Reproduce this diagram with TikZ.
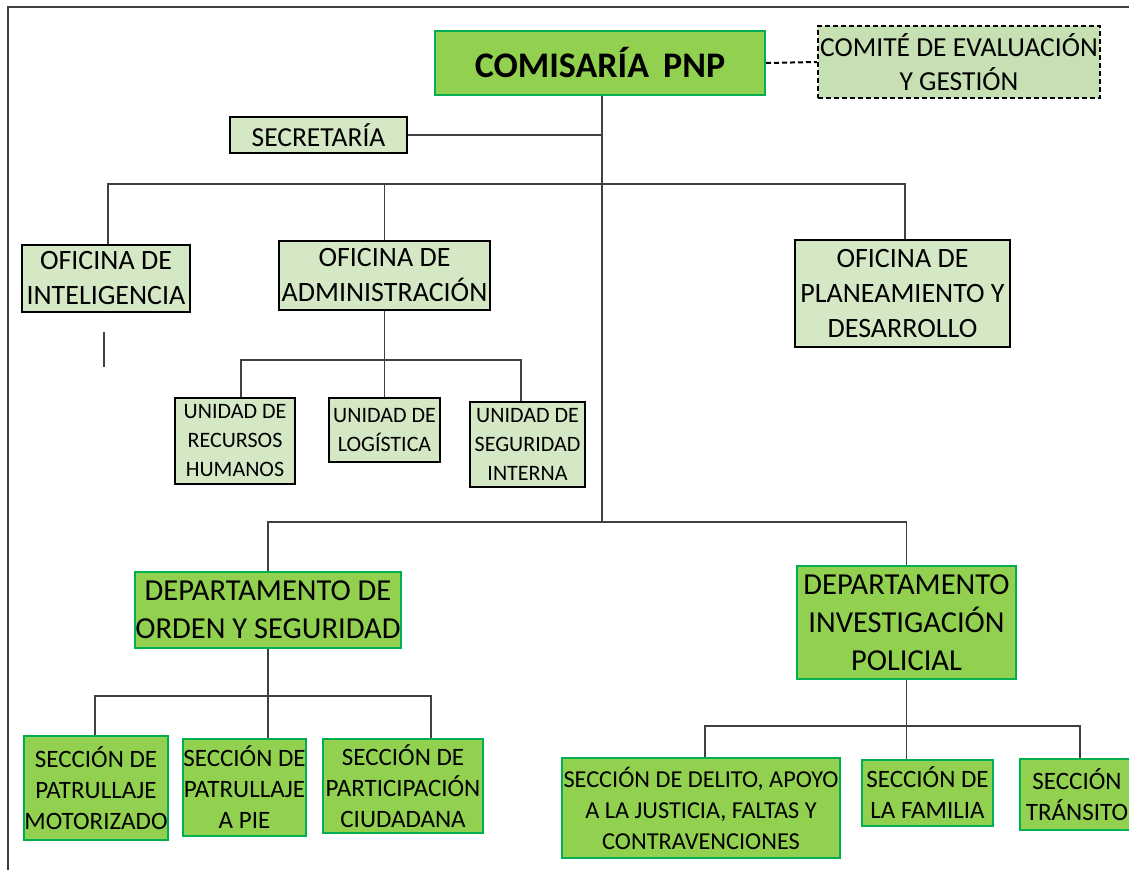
\documentclass[tikz,border=0pt]{standalone}
\usepackage{fontspec}
\setmainfont{Carlito}
\definecolor{litegreen}{HTML}{D5E8C6}
\definecolor{comitegreen}{HTML}{C6E0B4}
\definecolor{midgreen}{HTML}{92D050}
\definecolor{bordgreen}{HTML}{00B050}
\definecolor{linegray}{HTML}{404040}
\tikzset{
  lite/.style={draw=black, line width=2.2pt, fill=litegreen, align=center, inner sep=0pt},
  dark/.style={draw=bordgreen, line width=2pt, fill=midgreen, align=center, inner sep=0pt},
  conn/.style={draw=linegray, line width=1.3pt},
  dashconn/.style={draw=black, line width=2pt, dash pattern=on 5pt off 3pt},
  fOf/.style={font=\fontsize{28}{35}\selectfont},
  fUn/.style={font=\fontsize{22}{29}\selectfont},
  fDe/.style={font=\fontsize{30.5}{38}\selectfont},
  fSe/.style={font=\fontsize{25}{31}\selectfont},
}
\begin{document}
\begin{tikzpicture}[x=1pt,y=-1pt]
\useasboundingbox (0,0) rectangle (1129,870);
% frame
\coordinate (fa) at (8,870);
\coordinate (fb) at (8,7);
\coordinate (fc) at (1135,7);
\draw[linegray, line width=1.8pt] (fa) -- (fb) -- (fc);

% nodes
\node[dark, minimum width=330pt, minimum height=64pt, font=\fontsize{36}{40}\selectfont\bfseries] (com) at (600,63) {COMISARÍA\, PNP};
\node[draw=black, line width=2pt, dash pattern=on 5pt off 3pt, fill=comitegreen, align=center, inner sep=0pt,
      minimum width=282pt, minimum height=72pt, font=\fontsize{27.5}{34}\selectfont] (comite) at (959,62) {COMITÉ DE EVALUACIÓN\\Y GESTIÓN};
\node[lite, minimum width=177pt, minimum height=36pt, font=\fontsize{27.5}{30}\selectfont] (sec) at (318.5,135) {SECRETARÍA};

\node[lite, fOf, minimum width=168pt, minimum height=67pt] (intel) at (106,278.5) {OFICINA DE\\INTELIGENCIA};
\node[lite, fOf, minimum width=211pt, minimum height=69pt] (adm) at (384.5,275.5) {OFICINA DE\\ADMINISTRACIÓN};
\node[lite, fOf, minimum width=215pt, minimum height=107pt] (plan) at (902.5,293.5) {OFICINA DE\\PLANEAMIENTO Y\\DESARROLLO};

\node[lite, fUn, minimum width=120pt, minimum height=86pt] (urh) at (235,441) {UNIDAD DE\\RECURSOS\\HUMANOS};
\node[lite, fUn, minimum width=111pt, minimum height=64pt] (ulog) at (384.5,430) {UNIDAD DE\\LOGÍSTICA};
\node[lite, fUn, minimum width=115pt, minimum height=85pt] (useg) at (527.5,444.5) {UNIDAD DE\\SEGURIDAD\\INTERNA};

\node[dark, fDe, minimum width=266pt, minimum height=76pt] (dord) at (268,610) {DEPARTAMENTO DE\\ORDEN Y SEGURIDAD};
\node[dark, fDe, minimum width=219pt, minimum height=113pt] (dinv) at (906.5,622.5) {DEPARTAMENTO\\INVESTIGACIÓN\\POLICIAL};

\node[dark, fSe, minimum width=138pt, minimum height=104pt] (smot) at (96,788) {SECCIÓN DE\\PATRULLAJE\\MOTORIZADO};
\node[dark, fSe, minimum width=123pt, minimum height=97pt] (spie) at (244.5,787.5) {SECCIÓN DE\\PATRULLAJE\\A PIE};
\node[dark, fSe, minimum width=160pt, minimum height=94pt] (spar) at (403,786) {SECCIÓN DE\\PARTICIPACIÓN\\CIUDADANA};

\node[dark, font=\fontsize{24.3}{31}\selectfont, minimum width=278pt, minimum height=100pt] (sdel) at (701,808) {SECCIÓN DE DELITO, APOYO\\A LA JUSTICIA, FALTAS Y\\CONTRAVENCIONES};
\node[dark, fSe, minimum width=131pt, minimum height=66pt] (sfam) at (927.5,793) {SECCIÓN DE\\LA FAMILIA};
\node[dark, fSe, minimum width=114pt, minimum height=71pt] (stra) at (1077,794.5) {SECCIÓN\\TRÁNSITO};

% connectors
\draw[dashconn] (com.east) -- (comite.west);
\coordinate (bus3) at (602,522);
\draw[conn] (com.south -| bus3) -- (bus3);
\draw[conn] (sec.east) -- (sec.east -| bus3);

\coordinate (b1l) at (108,184);
\coordinate (b1r) at (905,184);
\draw[conn] (b1l |- intel.north) -- (b1l) -- (b1r) -- (b1r |- plan.north);
\draw[conn] (adm.north) -- (adm.north |- b1l);

\coordinate (o1) at (104,332);
\coordinate (o2) at (104,367);
\draw[conn] (o1) -- (o2);

\coordinate (b2l) at (241,360);
\coordinate (b2r) at (521,360);
\draw[conn] (adm.south) -- (adm.south |- b2l);
\draw[conn] (b2l |- urh.north) -- (b2l) -- (b2r) -- (b2r |- useg.north);
\draw[conn] (ulog.north) -- (ulog.north |- b2l);

\draw[conn] (dord.north) -- (dord.north |- bus3) -- (dinv.north |- bus3) -- (dinv.north);

\coordinate (b4l) at (95,696);
\coordinate (b4r) at (431,696);
\draw[conn] (dord.south) -- (dord.south |- spie.north);
\draw[conn] (b4l |- smot.north) -- (b4l) -- (b4r) -- (b4r |- spar.north);

\coordinate (b5l) at (705,726);
\coordinate (b5r) at (1080,726);
\draw[conn] (dinv.south) -- (dinv.south |- sfam.north);
\draw[conn] (b5l |- sdel.north) -- (b5l) -- (b5r) -- (b5r |- stra.north);
\end{tikzpicture}
\end{document}
